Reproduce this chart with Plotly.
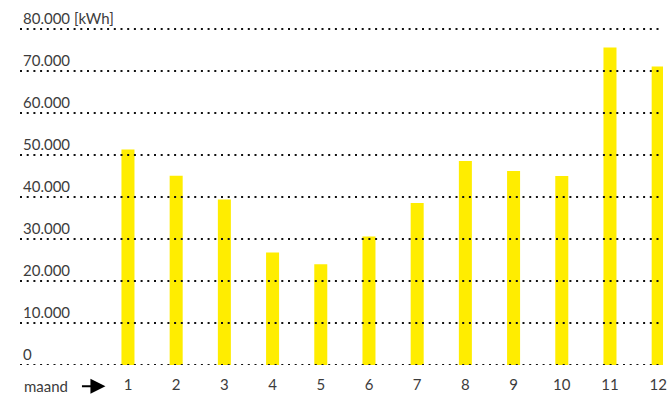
import plotly.graph_objects as go

months = [1, 2, 3, 4, 5, 6, 7, 8, 9, 10, 11, 12]
month_labels = ["1", "2", "3", "4", "5", "6", "7", "8", "9", "10", "11", "12"]
kwh = [51300, 45100, 39400, 26800, 24000, 30600, 38600, 48600, 46200, 45000, 75600, 71100]
y_ticks = [0, 10000, 20000, 30000, 40000, 50000, 60000, 70000, 80000]
y_labels = ["0", "10.000", "20.000", "30.000", "40.000", "50.000", "60.000", "70.000", "80.000 [kWh]"]
x_title = "maand"

FONT = "Lato"
TXT = "#3c3c3c"
FS = 15

fig = go.Figure()
fig.add_trace(go.Bar(x=months, y=kwh, width=0.27, marker=dict(color="#FFED00", line=dict(width=0)),
                     hoverinfo="x+y"))

for v in y_ticks:
    fig.add_shape(type="line", xref="paper", x0=0, x1=1, yref="y", y0=v, y1=v,
                  layer="above", line=dict(color="#111111", width=2, dash="2px,4.7px"))

annotations = []
for v, t in zip(y_ticks, y_labels):
    annotations.append(dict(xref="paper", x=0, xanchor="left", xshift=1, yref="y", y=v,
                            yanchor="bottom", yshift=0, text=t, showarrow=False,
                            font=dict(family=FONT, size=FS, color=TXT)))
annotations.append(dict(xref="paper", x=0, xanchor="left", xshift=2, yref="paper", y=-0.0625,
                        yanchor="middle", text=x_title, showarrow=False,
                        font=dict(family=FONT, size=FS, color=TXT)))
annotations.append(dict(xref="paper", x=0.1329, yref="paper", y=-0.0625, text="",
                        showarrow=True, ax=-25, ay=0, axref="pixel", ayref="pixel",
                        arrowhead=2, arrowwidth=2, arrowsize=1.5, arrowcolor="#000000"))

fig.update_layout(
    width=667, height=397,
    margin=dict(l=20, r=0, t=27, b=32),
    paper_bgcolor="white", plot_bgcolor="white",
    showlegend=False,
    annotations=annotations,
    xaxis=dict(range=[-1.24, 12.1], tickvals=months, ticktext=month_labels,
               showgrid=False, zeroline=False, showline=False, ticks="",
               ticklabelstandoff=9, ticklabeloverflow="allow",
               tickfont=dict(family=FONT, size=FS, color=TXT), fixedrange=True),
    yaxis=dict(range=[0, 80500], showgrid=False, zeroline=False, showline=False,
               showticklabels=False, ticks="", fixedrange=True),
    font=dict(family=FONT),
)

fig.write_html("out.html")
